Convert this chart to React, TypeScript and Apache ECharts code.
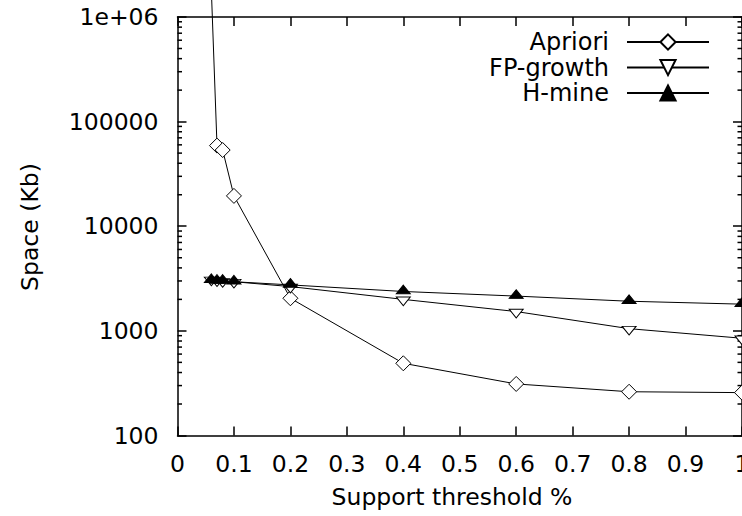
import React, { useEffect, useRef } from "react";
import * as echarts from "echarts";

// ---- data ----
const supportX = [0.06, 0.07, 0.08, 0.1, 0.2, 0.4, 0.6, 0.8, 1.0];
const aprioriSpace = [1800000, 59000, 53500, 19500, 2050, 490, 311, 262, 257];
const fpGrowthSpace = [3100, 3050, 3000, 2950, 2650, 2000, 1530, 1050, 850];
const hMineSpace = [3050, 3000, 3000, 2950, 2750, 2380, 2150, 1920, 1800];
const seriesNames = ["Apriori", "FP-growth", "H-mine"];
const yTickLabels = ["100", "1000", "10000", "100000", "1e+06"];
const yMinorTicks = [
  200, 300, 400, 500, 600, 700, 800, 900,
  2000, 3000, 4000, 5000, 6000, 7000, 8000, 9000,
  20000, 30000, 40000, 50000, 60000, 70000, 80000, 90000,
  200000, 300000, 400000, 500000, 600000, 700000, 800000, 900000,
];
const xTitle = "Support threshold %";
const yTitle = "Space (Kb)";

const FONT = "DejaVu Sans";

const pair = (xs: number[], ys: number[]) => xs.map((x, i) => [x, ys[i]]);

export default function App() {
  const ref = useRef<HTMLDivElement>(null);
  useEffect(() => {
    if (!ref.current) return;
    const chart = echarts.init(ref.current, null, { renderer: "svg" });
    const axisLine = { show: true, onZero: false, lineStyle: { color: "#000", width: 1.5 } };
    const axisTick = { show: true, inside: true, length: 9, lineStyle: { color: "#000", width: 1.5 } };
    const labelStyle = { color: "#000", fontSize: 23.5, fontFamily: FONT };
    const xBase = {
      type: "value",
      min: 0,
      max: 1,
      interval: 0.1,
      axisLine,
      axisTick,
      splitLine: { show: false },
    };
    const yBase = {
      type: "log",
      logBase: 10,
      min: 100,
      max: 1000000,
      axisLine,
      axisTick,
      splitLine: { show: false },
      minorTick: { show: false },
    };
    const lineStyle = { color: "#000", width: 1 };
    chart.setOption({
      animation: false,
      backgroundColor: "#fff",
      grid: { left: 177.5, right: 0, top: 17, bottom: 80.5, outerBoundsMode: "none", containLabel: false },
      xAxis: [
        { ...xBase, position: "bottom", axisLabel: { ...labelStyle, margin: 16 } },
        { ...xBase, position: "top", axisLabel: { show: false } },
      ],
      yAxis: [
        {
          ...yBase,
          position: "left",
          axisLabel: {
            ...labelStyle,
            margin: 19,
            formatter: (v: number) => yTickLabels[Math.round(Math.log10(v)) - 2] ?? "",
          },
        },
        { ...yBase, position: "right", axisLabel: { show: false } },
      ],
      legend: {
        data: seriesNames,
        orient: "vertical",
        align: "right",
        right: 32,
        top: 30,
        padding: 0,
        itemGap: 1.5,
        itemWidth: 82,
        itemHeight: 19,
        selectedMode: false,
        textStyle: { color: "#000", fontSize: 24, fontFamily: FONT, lineHeight: 20, padding: [0, 13, 0, 0] },
      },
      graphic: [
        {
          type: "text",
          x: 30,
          y: 227,
          rotation: Math.PI / 2,
          style: { text: yTitle, fill: "#000", fontSize: 23.5, fontFamily: FONT, align: "center", verticalAlign: "middle" },
        },
        {
          type: "text",
          x: 452,
          y: 497,
          style: { text: xTitle, fill: "#000", fontSize: 23.5, fontFamily: FONT, align: "center", verticalAlign: "middle" },
        },
      ],
      series: [
        {
          name: seriesNames[0],
          type: "line",
          data: pair(supportX, aprioriSpace),
          clip: false,
          symbol: "diamond",
          symbolSize: 15,
          lineStyle,
          itemStyle: { color: "#fff", borderColor: "#000", borderWidth: 1 },
          z: 3,
        },
        {
          name: seriesNames[1],
          type: "line",
          data: pair(supportX, fpGrowthSpace),
          symbol: "path://M0,0L14,0L7,11Z",
          symbolKeepAspect: true,
          symbolSize: [14, 11],
          symbolOffset: [0, 2],
          lineStyle,
          itemStyle: { color: "#fff", borderColor: "#000", borderWidth: 1 },
          z: 3,
        },
        {
          name: seriesNames[2],
          type: "line",
          data: pair(supportX, hMineSpace),
          symbol: "path://M7,0L14,11L0,11Z",
          symbolKeepAspect: true,
          symbolSize: [14, 11],
          symbolOffset: [0, -2],
          lineStyle,
          itemStyle: { color: "#000", borderColor: "#000", borderWidth: 1 },
          z: 3,
        },
        {
          name: "minorTicks",
          type: "custom",
          silent: true,
          data: yMinorTicks.map((v) => [0, v]),
          encode: { x: 0, y: 1 },
          renderItem: (_p: any, api: any) => {
            const v = api.value(1);
            const pl = api.coord([0, v]);
            const pr = api.coord([1, v]);
            const st = { stroke: "#000", lineWidth: 1.5 };
            return {
              type: "group",
              children: [
                { type: "line", shape: { x1: pl[0], y1: pl[1], x2: pl[0] + 4.5, y2: pl[1] }, style: st },
                { type: "line", shape: { x1: pr[0], y1: pr[1], x2: pr[0] - 4.5, y2: pr[1] }, style: st },
              ],
            };
          },
        },
      ],
    });
    return () => chart.dispose();
  }, []);
  return <div ref={ref} style={{ position: "absolute", left: 0, top: 0, width: 742, height: 516 }} />;
}
